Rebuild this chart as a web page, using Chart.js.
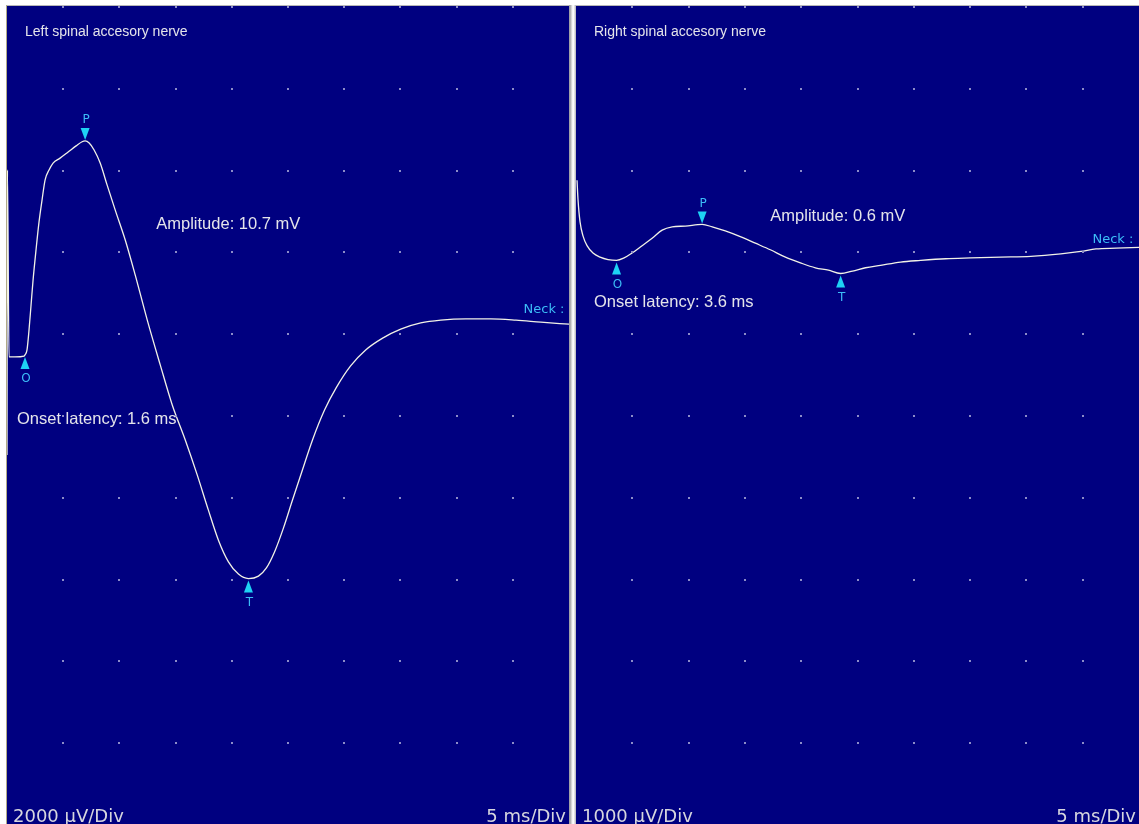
<!DOCTYPE html>
<html>
<head>
<meta charset="utf-8">
<script src="https://cdn.jsdelivr.net/npm/chart.js@4/dist/chart.umd.min.js"></script>
<style>
  html, body { margin: 0; padding: 0; background: #ffffff; }
  body { width: 1139px; height: 824px; position: relative; overflow: hidden; }
  .panel { position: absolute; background: #000080; }
  #leftPanel { left: 7px; top: 6px; width: 562px; height: 818px; }
  #rightPanel { left: 576px; top: 6px; width: 563px; height: 818px; }
  .edgeTop { position: absolute; top: 5px; height: 1px; background: #b8b8b8; }
  .edgeLeft { position: absolute; left: 6px; top: 5px; width: 1px; height: 819px; background: #b0aa88; }
  #divider { position: absolute; left: 569px; top: 5px; width: 7px; height: 819px;
             background: linear-gradient(to right, #9a9aa0 0px, #b8b8bc 2px, #f0f0f0 3px, #ffffff 5px, #c0c0c4 6px); }
  canvas { display: block; }
</style>
</head>
<body>
<div class="edgeTop" style="left:6px;width:1133px"></div>
<div class="edgeLeft"></div>
<div id="leftPanel" class="panel"><canvas id="leftChart" width="562" height="818"></canvas></div>
<div id="divider"></div>
<div id="rightPanel" class="panel"><canvas id="rightChart" width="563" height="818"></canvas></div>

<script>
// Sweep: 10 divisions of 5 ms each
const timeDivs = [0, 5, 10, 15, 20, 25, 30, 35, 40, 45, 50];

// Left spinal accessory nerve, 2000 µV/Div (values in mV)
const leftDivs = [-10, -8, -6, -4, -2, 0, 2, 4, 6, 8, 10];
const leftTime = [0, 0.04, 0.18, 0.71, 1.52, 1.6, 1.78, 1.96, 2.14, 2.32, 2.58, 2.85, 3.12, 3.39, 3.74,
  4.10, 4.72, 5.44, 6.15, 6.68, 6.95, 7.31, 7.75, 8.29, 8.91, 9.63, 10.52, 11.41, 12.48, 13.64,
  14.71, 15.86, 16.93, 17.91, 18.81, 19.70, 20.59, 21.48, 22.37, 23.08, 23.80, 24.60, 25.40,
  26.29, 27.18, 28.25, 29.32, 30.57, 31.91, 33.42, 35.03, 36.81, 38.60, 40.82, 43.05, 45.28,
  47.50, 50.0];
const leftVolt = [-0.98, 5.99, 1.42, 1.42, 1.44, 1.47, 1.59, 2.08, 2.69, 3.30, 4.03, 4.72, 5.26, 5.75, 5.99,
  6.16, 6.28, 6.43, 6.58, 6.68, 6.70, 6.65, 6.48, 6.16, 5.62, 5.01, 4.28, 3.42, 2.32, 1.22,
  0.24, -0.61, -1.47, -2.32, -3.06, -3.59, -3.89, -4.00, -3.94, -3.74, -3.35, -2.76, -2.08,
  -1.34, -0.61, 0.12, 0.68, 1.20, 1.59, 1.88, 2.10, 2.25, 2.32, 2.35, 2.35, 2.32,
  2.27, 2.22];
// Onset, peak and trough (ms, mV)
const leftOnset = [1.6, 1.47];
const leftPeak = [6.95, 6.70];
const leftTrough = [21.48, -4.00];

// Right spinal accessory nerve, 1000 µV/Div (values in mV)
const rightDivs = [-5, -4, -3, -2, -1, 0, 1, 2, 3, 4, 5];
const rightTime = [0.09, 0.18, 0.36, 0.62, 0.98, 1.51, 2.14, 2.85, 3.6, 4.27, 4.98, 5.87, 6.76, 7.65,
  8.54, 9.70, 11.2, 12.10, 13.26, 14.59, 15.93, 17.26, 18.60, 19.93, 21.26, 22.42, 23.5, 24.56,
  25.71, 27.05, 28.83, 30.61, 32.83, 35.05, 37.72, 40.39, 43.06, 44.84, 46.18, 47.96, 50.0];
const rightVolt = [2.87, 2.63, 2.36, 2.19, 2.07, 1.98, 1.93, 1.90, 1.89, 1.92, 1.98, 2.07, 2.16, 2.26,
  2.30, 2.31, 2.33, 2.30, 2.25, 2.18, 2.10, 2.02, 1.93, 1.86, 1.80, 1.77, 1.73, 1.76,
  1.80, 1.83, 1.87, 1.89, 1.91, 1.92, 1.93, 1.94, 1.97, 2.00, 2.03, 2.04, 2.05];
const rightOnset = [3.6, 1.89];
const rightPeak = [11.2, 2.33];
const rightTrough = [23.5, 1.73];

// Readouts
const leftTexts = { title: 'Left spinal accesory nerve', amp: 'Amplitude: 10.7 mV', lat: 'Onset latency: 1.6 ms',
                    gain: '2000 µV/Div', sweep: '5 ms/Div' };
const rightTexts = { title: 'Right spinal accesory nerve', amp: 'Amplitude: 0.6 mV', lat: 'Onset latency: 3.6 ms',
                     gain: '1000 µV/Div', sweep: '5 ms/Div' };

const TRACE = '#f2f2e6';
const MARK = '#1ed2f4';
const MARK_TXT = '#3cbcf6';
const LABEL = '#e4e4ea';

// Draws the dotted graticule, cursors and readouts of one sweep
const scopePlugin = {
  id: 'scope',
  afterDatasetsDraw(chart, args, o) {
    const ctx = chart.ctx;
    const xs = chart.scales.x, ys = chart.scales.y;
    const area = chart.chartArea;
    ctx.save();

    // graticule dots
    ctx.fillStyle = '#8c8cc8';
    o.xDivs.forEach((t, i) => {
      if (i === 0 || i === o.xDivs.length - 1) return;
      o.yDivs.forEach((v, j) => {
        if (j === 0) return;
        const px = Math.round(xs.getPixelForValue(t));
        const py = Math.round(ys.getPixelForValue(v));
        ctx.fillRect(px - 1, py, 2, 2);
      });
    });

    // cursors: triangle + letter
    const tri = (px, py, up) => {
      ctx.fillStyle = MARK;
      ctx.beginPath();
      if (up) {
        ctx.moveTo(px, py + 2); ctx.lineTo(px - 4.5, py + 14); ctx.lineTo(px + 4.5, py + 14);
      } else {
        ctx.moveTo(px, py - 1); ctx.lineTo(px - 4.5, py - 13); ctx.lineTo(px + 4.5, py - 13);
      }
      ctx.closePath(); ctx.fill();
    };
    ctx.font = '12px "DejaVu Sans"';
    ctx.textAlign = 'center';
    ctx.textBaseline = 'middle';
    o.markers.forEach(m => {
      const px = xs.getPixelForValue(m.at[0]);
      const py = ys.getPixelForValue(m.at[1]);
      tri(px, py, m.up);
      ctx.fillStyle = MARK_TXT;
      ctx.fillText(m.label, px + 1, m.up ? py + 24 : py - 21);
    });

    // channel name
    ctx.fillStyle = LABEL;
    ctx.textAlign = 'left';
    ctx.font = '14px "Liberation Sans"';
    ctx.fillText(o.texts.title, area.left + 18, area.top + 26);

    // measurement readouts anchored in data space
    ctx.font = '16.5px "Liberation Sans"';
    ctx.fillText(o.texts.amp, xs.getPixelForValue(o.ampAt[0]), ys.getPixelForValue(o.ampAt[1]));
    ctx.fillText(o.texts.lat, xs.getPixelForValue(o.latAt[0]), ys.getPixelForValue(o.latAt[1]));

    // site label
    ctx.fillStyle = MARK_TXT;
    ctx.textAlign = 'right';
    ctx.font = '13px "DejaVu Sans"';
    ctx.fillText('Neck :', xs.getPixelForValue(o.neckAt[0]), ys.getPixelForValue(o.neckAt[1]));

    // scale readouts
    ctx.fillStyle = '#d6d6de';
    ctx.font = '18px "DejaVu Sans"';
    ctx.textBaseline = 'alphabetic';
    ctx.textAlign = 'left';
    ctx.fillText(o.texts.gain, area.left + 6, area.bottom - 2);
    ctx.textAlign = 'right';
    ctx.fillText(o.texts.sweep, area.right - 3, area.bottom - 2);

    ctx.restore();
  }
};

function makeSweep(id, time, volt, divs, extra) {
  return new Chart(document.getElementById(id), {
    type: 'line',
    data: {
      datasets: [{
        data: time.map((t, i) => ({ x: t, y: volt[i] })),
        borderColor: TRACE,
        borderWidth: 1.3,
        pointRadius: 0,
        cubicInterpolationMode: 'monotone',
        fill: false
      }]
    },
    options: {
      responsive: false,
      animation: false,
      devicePixelRatio: 1,
      layout: { padding: 0 },
      scales: {
        x: { type: 'linear', min: timeDivs[0], max: timeDivs[timeDivs.length - 1], display: false },
        y: { type: 'linear', min: divs[0], max: divs[divs.length - 1], display: false }
      },
      plugins: {
        legend: { display: false },
        tooltip: { enabled: false },
        scope: Object.assign({ xDivs: timeDivs, yDivs: divs }, extra)
      }
    },
    plugins: [scopePlugin]
  });
}

makeSweep('leftChart', leftTime, leftVolt, leftDivs, {
  texts: leftTexts,
  markers: [
    { at: leftOnset, up: true, label: 'O' },
    { at: leftPeak, up: false, label: 'P' },
    { at: leftTrough, up: true, label: 'T' }
  ],
  ampAt: [13.28, 4.67],
  latAt: [0.89, -0.12],
  neckAt: [49.6, 2.57]
});

makeSweep('rightChart', rightTime, rightVolt, rightDivs, {
  texts: rightTexts,
  markers: [
    { at: rightOnset, up: true, label: 'O' },
    { at: rightPeak, up: false, label: 'P' },
    { at: rightTrough, up: true, label: 'T' }
  ],
  ampAt: [17.26, 2.43],
  latAt: [1.60, 1.37],
  neckAt: [49.5, 2.14]
});
</script>
</body>
</html>
